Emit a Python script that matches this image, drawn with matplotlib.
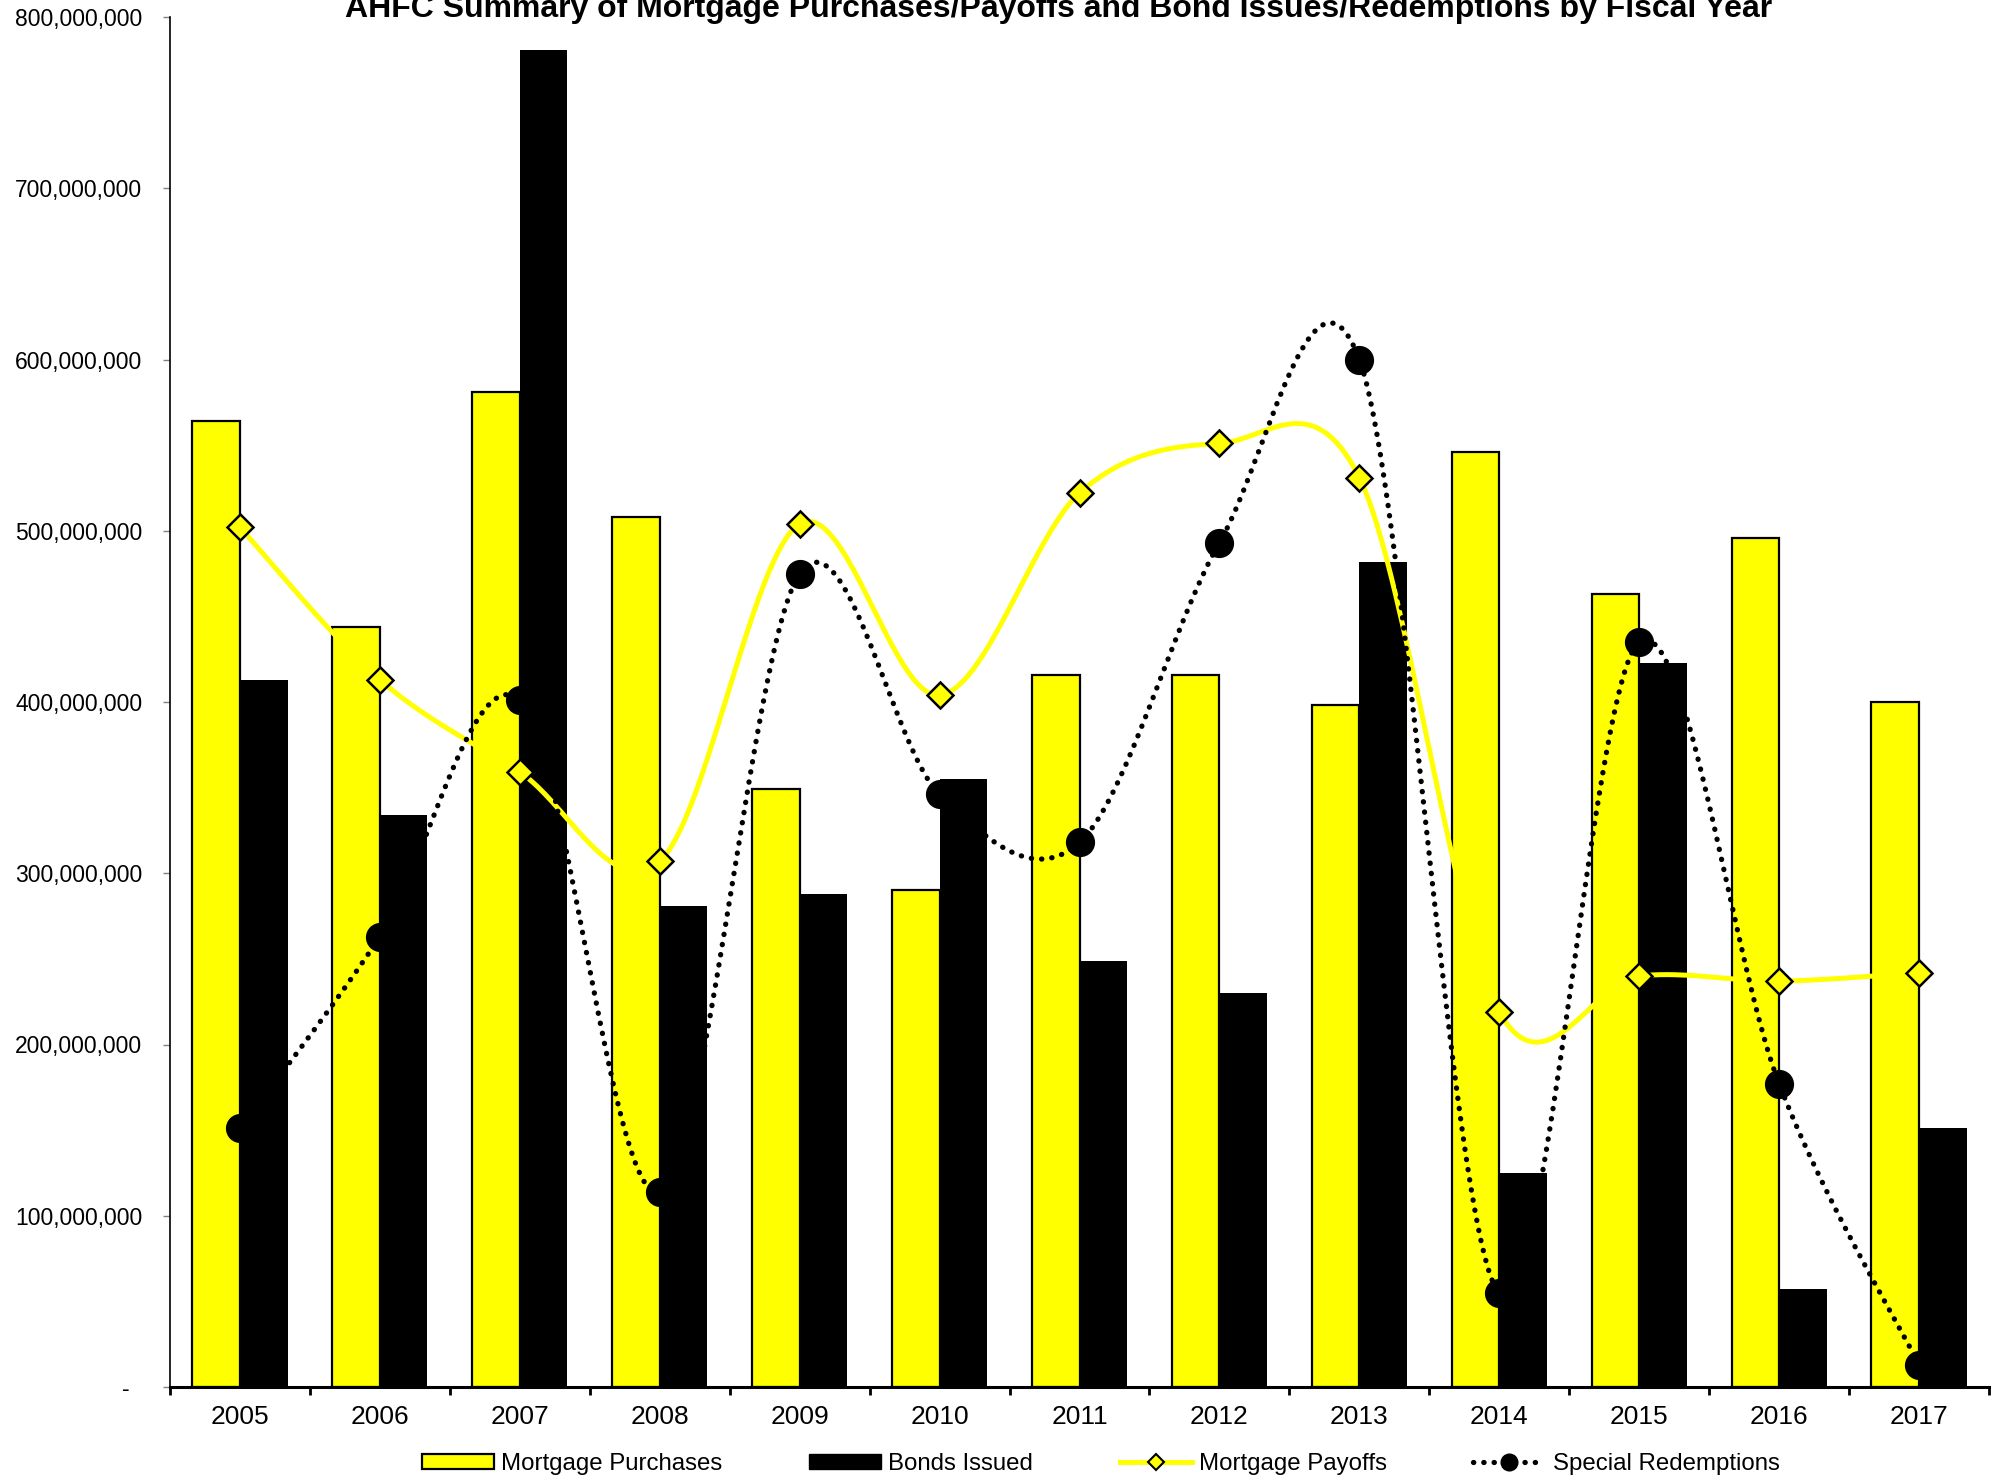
import numpy as np
import matplotlib
matplotlib.use('Agg')
import matplotlib.pyplot as plt
from matplotlib.ticker import FuncFormatter, FixedLocator
from matplotlib.lines import Line2D
from matplotlib.patches import Patch

plt.rcParams['font.family'] = ['Liberation Sans', 'DejaVu Sans']

# data (USD)
years = ['2005', '2006', '2007', '2008', '2009', '2010', '2011',
         '2012', '2013', '2014', '2015', '2016', '2017']
mortgage_purchases = [564e6, 444e6, 581e6, 508e6, 349e6, 290e6, 416e6,
                      416e6, 398e6, 546e6, 463e6, 496e6, 400e6]
bonds_issued = [413e6, 334e6, 781e6, 281e6, 288e6, 355e6, 249e6,
                230e6, 482e6, 125e6, 423e6, 57e6, 151e6]
mortgage_payoffs = [502e6, 413e6, 359e6, 307e6, 504e6, 404e6, 522e6,
                    551e6, 531e6, 219e6, 240e6, 237e6, 242e6]
special_redemptions = [151e6, 263e6, 401e6, 114e6, 475e6, 346e6, 318e6,
                       493e6, 600e6, 55e6, 435e6, 177e6, 13e6]

title = 'AHFC Summary of Mortgage Purchases/Payoffs and Bond Issues/Redemptions by Fiscal Year'


def smooth(xs, ys, n=40):
    # excel style smoothed line (bezier through the points)
    xs = np.asarray(xs, float)
    ys = np.asarray(ys, float)
    px = np.concatenate([[xs[0]], xs, [xs[-1]]])
    py = np.concatenate([[ys[0]], ys, [ys[-1]]])
    t = np.linspace(0, 1, n)
    ox, oy = [], []
    for i in range(1, len(px) - 2):
        x0, x1, x2, x3 = px[i - 1:i + 3]
        y0, y1, y2, y3 = py[i - 1:i + 3]
        cx1, cy1 = x1 + (x2 - x0) / 6, y1 + (y2 - y0) / 6
        cx2, cy2 = x2 - (x3 - x1) / 6, y2 - (y3 - y1) / 6
        a, b, c, d = (1 - t) ** 3, 3 * (1 - t) ** 2 * t, 3 * (1 - t) * t ** 2, t ** 3
        ox.extend(a * x1 + b * cx1 + c * cx2 + d * x2)
        oy.extend(a * y1 + b * cy1 + c * cy2 + d * y2)
    return ox, oy


fig = plt.figure(figsize=(20.05, 14.81), dpi=100)
ax = fig.add_axes([170 / 2005, 1 - 1387 / 1481, 1819 / 2005, 1370 / 1481])

x = np.arange(len(years))
w = 0.34
ax.bar(x - w / 2, mortgage_purchases, width=w, color='#FFFF00',
       edgecolor='black', linewidth=1.6, zorder=2)
ax.bar(x + w / 2, bonds_issued, width=w, color='black', linewidth=0, zorder=2)

sx, sy = smooth(x, mortgage_payoffs)
ax.plot(sx, sy, color='#FFFF00', lw=3.6, zorder=3, solid_capstyle='round')
ax.plot(x, mortgage_payoffs, ls='none', marker='D', ms=13, mfc='#FFFF00',
        mec='black', mew=1.8, zorder=4)

sx, sy = smooth(x, special_redemptions)
ax.plot(sx, sy, color='black', lw=3.8, ls=(0, (0.05, 1.9)),
        dash_capstyle='round', zorder=5)
ax.plot(x, special_redemptions, ls='none', marker='o', ms=20, mfc='black',
        mec='black', zorder=6)

ax.set_xlim(-0.5, len(years) - 0.5)
ax.set_ylim(0, 800e6)
ax.yaxis.set_major_locator(FixedLocator(np.arange(0, 800e6 + 1, 100e6)))
ax.yaxis.set_major_formatter(FuncFormatter(
    lambda v, p: '{:,.0f}'.format(v) if v else '-  '))
ax.set_xticks(x)
ax.set_xticklabels(years)
ax.xaxis.set_minor_locator(FixedLocator(np.arange(-0.5, len(years), 1)))
ax.tick_params(axis='x', which='major', length=0, pad=13, labelsize=19)
ax.tick_params(axis='x', which='minor', length=6, width=2, direction='out')
ax.tick_params(axis='y', length=5, width=1, color='#808080', pad=15,
               labelsize=16.5)

for s in ['top', 'right']:
    ax.spines[s].set_visible(False)
ax.spines['left'].set_linewidth(1.2)
ax.spines['bottom'].set_linewidth(2.2)
ax.spines['bottom'].set_zorder(7)

fig.text(0.528, 1 - 17 / 1481, title, ha='center', va='baseline',
         fontsize=23, fontweight='bold')

handles = [
    Patch(facecolor='#FFFF00', edgecolor='black', linewidth=1.6),
    Patch(facecolor='black', edgecolor='black'),
    Line2D([], [], color='#FFFF00', lw=3.6, marker='D', ms=8,
           mfc='#FFFF00', mec='black', mew=1.5),
    Line2D([], [], color='black', lw=3.8, ls=(0, (0.05, 1.9)),
           dash_capstyle='round', marker='o', ms=12),
]
labels = ['Mortgage Purchases', 'Bonds Issued', 'Mortgage Payoffs',
          'Special Redemptions']
fig.legend(handles, labels, loc='center', bbox_to_anchor=(0.549, 1 - 1464 / 1481),
           ncol=4, frameon=False, fontsize=17.3, handlelength=3.0,
           handleheight=0.6, handletextpad=0.3, columnspacing=3.6)

fig.savefig('out.png', dpi=100)
